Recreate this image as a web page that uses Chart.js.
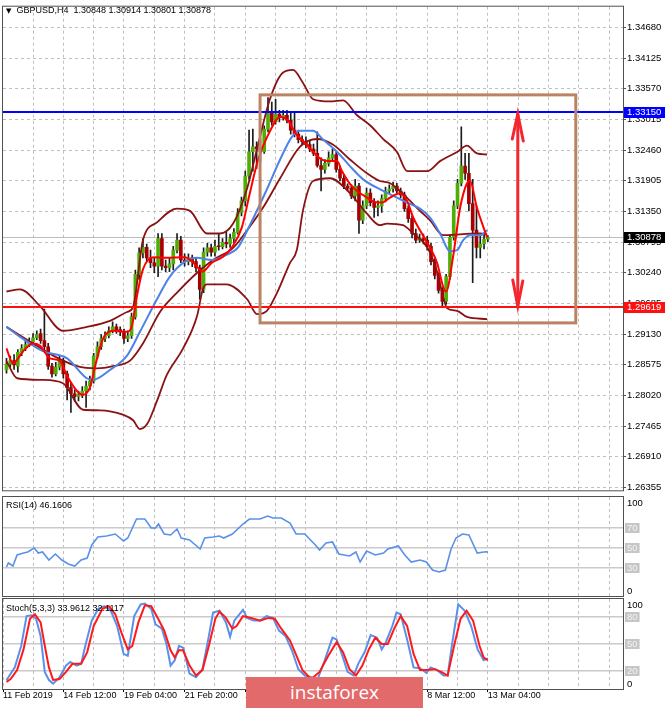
<!DOCTYPE html>
<html><head><meta charset="utf-8">
<script src="https://cdn.jsdelivr.net/npm/chart.js@4.4.1/dist/chart.umd.min.js"></script>
<style>
html,body{margin:0;padding:0;background:#fff;width:665px;height:708px;overflow:hidden;position:relative;}
.panel{position:absolute;left:0;width:665px;}
.panel canvas{display:block;}
.lbl{position:absolute;font:9px "Liberation Sans",Arial,sans-serif;color:#000;white-space:nowrap;line-height:12px;z-index:5;}
#banner{position:absolute;left:246px;top:677px;width:177px;height:31px;background:#e26a6a;color:#fff;font:19px "Open Sans",sans-serif;text-align:center;line-height:30px;z-index:6;}
</style></head><body>
<div class="panel" style="top:0;height:497px"><canvas id="cMain"></canvas></div>
<div class="panel" style="top:494px;height:103px"><canvas id="cRsi"></canvas></div>
<div class="panel" style="top:596px;height:112px"><canvas id="cSto"></canvas></div>
<div class="lbl" style="left:6px;top:4px"><span style="font-family:'DejaVu Sans';font-size:7px">&#9660;</span>&nbsp; GBPUSD,H4&nbsp; 1.30848 1.30914 1.30801 1.30878</div>
<div class="lbl" style="left:6px;top:499px">RSI(14) 46.1606</div>
<div class="lbl" style="left:6px;top:602px">Stoch(5,3,3) 33.9612 32.1117</div>
<div id="banner">instaforex</div>
<script>
// ---------- DATA ----------
const OPEN  = [1.2848,1.2858,1.2865,1.2855,1.2880,1.2887,1.2894,1.2899,1.2906,1.2914,1.2901,1.2890,1.2855,1.2841,1.2853,1.2865,1.2841,1.2816,1.2805,1.2800,1.2803,1.2810,1.2819,1.2828,1.2873,1.2890,1.2905,1.2910,1.2919,1.2926,1.2921,1.2917,1.2905,1.2910,1.2944,1.3021,1.3060,1.3070,1.3051,1.3042,1.3036,1.3086,1.3036,1.3033,1.3040,1.3065,1.3083,1.3047,1.3044,1.3051,1.3044,1.3033,1.2994,1.3061,1.3069,1.3061,1.3072,1.3071,1.3079,1.3076,1.3086,1.3097,1.3133,1.3154,1.3199,1.3243,1.3252,1.3248,1.3243,1.3284,1.3315,1.3297,1.3311,1.3306,1.3309,1.3300,1.3282,1.3275,1.3265,1.3261,1.3256,1.3248,1.3240,1.3218,1.3211,1.3222,1.3232,1.3238,1.3211,1.3195,1.3181,1.3177,1.3163,1.3181,1.3119,1.3145,1.3168,1.3151,1.3142,1.3145,1.3158,1.3172,1.3176,1.3181,1.3172,1.3165,1.3140,1.3122,1.3095,1.3083,1.3086,1.3083,1.3072,1.3044,1.3019,1.2992,1.2972,1.3017,1.3088,1.3145,1.3186,1.3217,1.3204,1.3149,1.3101,1.3070,1.3076,1.30848];
const HIGH  = [1.2869,1.2873,1.2876,1.2885,1.2894,1.2901,1.2906,1.2914,1.2919,1.2922,1.2958,1.2896,1.2860,1.2862,1.2873,1.2869,1.2846,1.2824,1.2812,1.2810,1.2818,1.2828,1.2837,1.2878,1.2899,1.2912,1.2917,1.2926,1.2935,1.2931,1.2926,1.2922,1.2919,1.2951,1.3029,1.3069,1.3086,1.3076,1.3065,1.3051,1.3095,1.3095,1.3047,1.3051,1.3072,1.3095,1.3090,1.3058,1.3058,1.3056,1.3051,1.3038,1.3069,1.3077,1.3076,1.3083,1.3095,1.3086,1.3097,1.3094,1.3104,1.3140,1.3161,1.3208,1.3282,1.3284,1.3261,1.3265,1.3290,1.3341,1.3333,1.3338,1.3318,1.3318,1.3318,1.3315,1.3315,1.3282,1.3272,1.3270,1.3263,1.3257,1.3279,1.3232,1.3229,1.3243,1.3248,1.3243,1.3217,1.3202,1.3185,1.3183,1.3193,1.3186,1.3154,1.3177,1.3176,1.3158,1.3154,1.3165,1.3179,1.3183,1.3188,1.3186,1.3177,1.3170,1.3145,1.3127,1.3103,1.3094,1.3094,1.3090,1.3077,1.3049,1.3024,1.2997,1.3021,1.3092,1.3154,1.3193,1.3288,1.3240,1.3240,1.3193,1.3145,1.3092,1.3094,1.30914];
const LOW   = [1.2842,1.2853,1.2849,1.2844,1.2874,1.2883,1.2890,1.2896,1.2903,1.2896,1.2882,1.2849,1.2835,1.2837,1.2848,1.2833,1.2794,1.2771,1.2791,1.2792,1.2798,1.2780,1.2812,1.2824,1.2869,1.2885,1.2899,1.2906,1.2915,1.2914,1.2910,1.2896,1.2899,1.2905,1.2940,1.3012,1.3051,1.3044,1.3033,1.3024,1.3017,1.3029,1.3026,1.3026,1.3029,1.3060,1.3042,1.3036,1.3038,1.3035,1.3026,1.2976,1.2988,1.3054,1.3054,1.3054,1.3065,1.3067,1.3069,1.3070,1.3079,1.3094,1.3127,1.3145,1.3193,1.3208,1.3213,1.3226,1.3240,1.3279,1.3291,1.3293,1.3297,1.3300,1.3295,1.3275,1.3270,1.3259,1.3256,1.3250,1.3243,1.3236,1.3215,1.3172,1.3204,1.3217,1.3226,1.3206,1.3190,1.3176,1.3172,1.3158,1.3154,1.3095,1.3113,1.3140,1.3145,1.3124,1.3127,1.3133,1.3152,1.3167,1.3170,1.3167,1.3160,1.3135,1.3115,1.3087,1.3078,1.3079,1.3076,1.3065,1.3038,1.3013,1.2987,1.2962,1.2967,1.3012,1.3083,1.3140,1.3181,1.3193,1.3136,1.3006,1.3051,1.3051,1.3067,1.30801];
const CLOSE = [1.2858,1.2865,1.2857,1.2880,1.2887,1.2894,1.2899,1.2906,1.2912,1.2901,1.2890,1.2855,1.2841,1.2853,1.2865,1.2841,1.2816,1.2805,1.2800,1.2803,1.2810,1.2819,1.2828,1.2873,1.2890,1.2905,1.2910,1.2919,1.2926,1.2921,1.2917,1.2905,1.2910,1.2944,1.3021,1.3060,1.3070,1.3051,1.3042,1.3036,1.3086,1.3036,1.3033,1.3040,1.3065,1.3083,1.3047,1.3044,1.3051,1.3044,1.3033,1.2994,1.3061,1.3069,1.3061,1.3072,1.3071,1.3079,1.3076,1.3086,1.3097,1.3133,1.3154,1.3199,1.3243,1.3252,1.3248,1.3243,1.3284,1.3315,1.3297,1.3311,1.3306,1.3309,1.3300,1.3282,1.3275,1.3265,1.3261,1.3256,1.3248,1.3240,1.3218,1.3211,1.3222,1.3232,1.3238,1.3211,1.3195,1.3181,1.3177,1.3163,1.3181,1.3119,1.3145,1.3168,1.3151,1.3142,1.3145,1.3158,1.3172,1.3176,1.3181,1.3172,1.3165,1.3140,1.3122,1.3095,1.3083,1.3086,1.3083,1.3072,1.3044,1.3019,1.2992,1.2972,1.3017,1.3088,1.3145,1.3186,1.3217,1.3204,1.3149,1.3101,1.3070,1.3076,1.3085,1.30878];

// indicator lines: [bar index, value]
const BB_UPPER = [[0,1.2990],[3.6,1.2994],[8.8,1.2964],[14.9,1.2919],[21.2,1.2926],[27.3,1.2937],[31.8,1.2953],[33.4,1.2962],[36.0,1.3083],[39.7,1.3115],[45.0,1.3140],[48.4,1.3136],[52.9,1.3095],[56.3,1.3095],[59.8,1.3113],[63.5,1.3177],[66.1,1.3248],[69.5,1.3338],[72.9,1.3386],[75.6,1.3391],[78.2,1.3368],[80.9,1.3338],[85.4,1.3334],[88.8,1.3336],[92.5,1.3309],[95.9,1.3291],[99.4,1.3266],[103.0,1.3243],[105.7,1.3208],[111.0,1.3208],[114.4,1.3226],[119.0,1.3243],[121.5,1.3254],[124.1,1.3240],[126.8,1.3238]];
const BB_MID = [[0,1.2926],[7.0,1.2896],[12.3,1.2874],[18.6,1.2855],[23.9,1.2851],[28.1,1.2855],[32.6,1.2865],[36.0,1.2896],[40.5,1.2953],[45.0,1.2988],[50.3,1.3024],[54.5,1.3047],[59.8,1.3069],[63.5,1.3101],[67.7,1.3142],[72.2,1.3195],[77.4,1.3252],[82.0,1.3266],[86.1,1.3256],[90.6,1.3229],[95.1,1.3204],[98.5,1.3190],[101.2,1.3186],[103.8,1.3172],[106.5,1.3154],[109.1,1.3136],[111.7,1.3119],[115.2,1.3092],[120.5,1.3094],[125.0,1.3095],[126.8,1.3094]];
const BB_LOWER = [[0,1.2864],[2.8,1.2833],[9.6,1.2830],[14.9,1.2824],[20.2,1.2776],[24.7,1.2775],[30.7,1.2767],[33.4,1.2757],[35.2,1.2741],[37.1,1.2750],[39.7,1.2792],[42.3,1.2839],[46.6,1.2887],[50.3,1.2946],[51.8,1.2994],[52.9,1.3003],[58.0,1.3003],[63.5,1.2976],[66.1,1.2949],[68.7,1.2955],[71.4,1.2988],[74.8,1.3042],[76.6,1.3065],[78.2,1.3136],[80.9,1.3190],[85.4,1.3195],[90.6,1.3168],[95.1,1.3131],[98.5,1.3110],[100.4,1.3113],[104.6,1.3110],[107.3,1.3095],[111.0,1.3070],[113.6,1.3026],[115.2,1.2981],[116.2,1.2960],[118.9,1.2955],[121.5,1.2944],[126.8,1.2940]];
const MA_SLOW = [[0,1.2926],[3.6,1.2908],[9.6,1.2882],[16.0,1.2869],[21.2,1.2833],[22.8,1.2830],[27.3,1.2848],[31.8,1.2874],[35.2,1.2917],[39.7,1.2976],[43.1,1.3017],[47.1,1.3044],[50.3,1.3051],[54.2,1.3047],[57.9,1.3056],[61.1,1.3070],[64.2,1.3110],[68.5,1.3172],[72.2,1.3229],[75.3,1.3270],[77.4,1.3281],[80.9,1.3281],[83.5,1.3265],[87.2,1.3243],[90.6,1.3217],[94.1,1.3193],[99.4,1.3172],[103.0,1.3160],[105.7,1.3151],[109.1,1.3140],[111.7,1.3124],[114.4,1.3095],[117.0,1.3063],[118.9,1.3065],[120.5,1.3083],[122.3,1.3092],[125.0,1.3092],[126.8,1.3101]];
const MA_FAST = [[0,1.2887],[1.7,1.2860],[4.4,1.2882],[7.0,1.2896],[8.8,1.2892],[11.5,1.2869],[14.1,1.2864],[16.0,1.2837],[18.6,1.2810],[20.2,1.2803],[22.0,1.2816],[23.9,1.2869],[25.5,1.2905],[28.1,1.2919],[31.8,1.2917],[33.1,1.2928],[34.4,1.2981],[36.0,1.3030],[38.7,1.3052],[41.8,1.3051],[47.1,1.3052],[50.3,1.3035],[51.6,1.3026],[54.2,1.3042],[56.9,1.3052],[59.5,1.3070],[62.1,1.3106],[64.2,1.3168],[66.4,1.3229],[69.0,1.3273],[72.2,1.3306],[74.3,1.3299],[76.4,1.3275],[78.2,1.3263],[80.9,1.3243],[82.7,1.3231],[84.6,1.3226],[87.2,1.3226],[88.5,1.3208],[90.6,1.3185],[92.5,1.3172],[95.1,1.3160],[97.2,1.3152],[99.1,1.3151],[101.2,1.3160],[103.8,1.3168],[105.7,1.3154],[107.3,1.3124],[109.1,1.3101],[111.7,1.3070],[113.6,1.3042],[115.2,1.2999],[116.0,1.2990],[117.8,1.3052],[119.7,1.3142],[121.5,1.3186],[122.3,1.3190],[124.1,1.3142],[126.8,1.3088]];
const RSI = [[0,31],[0.5,35],[1.7,32],[2.8,43],[4.5,45],[5.6,46],[7.3,50],[8.4,45],[9.5,46],[11.2,38],[12.9,44],[14.6,38],[16.3,34],[18,32],[19.7,38],[21.3,40],[22.5,53],[24.1,61],[26.4,62],[28.7,64],[30.9,57],[32,60],[34.3,79],[36.5,79],[38.2,70],[39.3,70],[40.1,74],[41.6,64],[43.3,63],[45,69],[46.1,60],[48.3,58],[51.1,49],[52.3,60],[54.5,61],[56.2,62],[57.3,60],[59.6,64],[62.4,74],[64.1,79],[66.9,79],[68.9,82],[70.3,80],[72.5,80],[74.8,75],[76.4,64],[78.7,64],[81.5,53],[82.6,48],[84.3,55],[86,56],[87.7,44],[90.5,42],[92.2,46],[93.3,36],[95,47],[97.3,43],[99.5,45],[100.6,49],[103.4,52],[105.1,43],[106.8,36],[109.1,38],[110.8,36],[112.4,28],[114.1,26],[115.8,28],[117.3,49],[118.6,60],[120.3,64],[122,63],[124.2,45],[125.9,46],[127,46.16]];
const STOCH_K = [[0,10],[0.5,13],[2.2,24],[3.9,48],[5.3,81],[6.7,82],[7.8,78],[9.0,59],[10.1,19],[11.2,10],[12.3,6],[14.0,13],[15.7,26],[16.8,30],[18.5,26],[19.7,28],[20.8,48],[22.5,76],[24.2,89],[25.8,92],[27.5,87],[29.2,70],[30.9,39],[32.0,37],[33.7,81],[35.4,94],[36.5,95],[38.2,89],[39.3,72],[41.0,67],[42.2,50],[43.3,26],[44.4,32],[45.5,48],[46.6,46],[48.3,17],[50.0,13],[51.7,22],[53.4,59],[54.5,85],[56.2,87],[57.9,74],[59.0,58],[60.1,76],[62.4,88],[63.5,79],[65.2,76],[66.9,76],[68.6,81],[70.3,79],[71.9,65],[73.6,59],[75.3,43],[77.0,22],[78.7,15],[80.4,13],[82.0,10],[83.8,30],[86.0,57],[87.1,55],[88.3,41],[90.0,19],[91.6,15],[92.8,28],[94.5,41],[96.1,60],[97.8,57],[99.0,44],[100.1,52],[101.8,70],[102.9,85],[104.0,83],[105.7,55],[107.4,24],[109.1,23],[110.8,18],[111.9,24],[113.6,21],[115.3,15],[116.4,15],[117.5,48],[119.2,94],[120.9,87],[122.6,70],[124.3,44],[125.9,32],[127,33.96]];
const STOCH_D = [[0,8],[1.1,11],[2.8,21],[4.5,44],[6.2,78],[7.5,83],[9.0,74],[10.1,48],[11.2,24],[12.3,10],[14.0,11],[15.7,19],[17.4,28],[19.7,28],[21.3,41],[23.0,70],[25.3,89],[27.0,92],[28.7,83],[30.3,63],[32.0,44],[33.2,48],[34.8,74],[36.5,93],[38.2,92],[39.9,79],[41.6,65],[43.3,43],[44.4,35],[45.5,43],[46.6,43],[48.3,26],[50.0,15],[51.7,21],[53.4,48],[55.1,78],[56.2,86],[57.9,79],[59.6,67],[60.7,70],[62.4,81],[64.6,79],[66.9,76],[69.1,79],[70.8,78],[72.5,67],[74.8,54],[76.5,37],[78.1,21],[80.4,11],[82.6,19],[84.9,37],[87.1,52],[88.8,41],[90.5,22],[92.2,15],[93.9,26],[95.6,44],[97.3,57],[99.0,50],[100.6,50],[102.3,67],[104.0,81],[105.7,70],[107.4,39],[109.1,21],[110.8,21],[113.0,22],[114.7,19],[116.4,15],[118.1,48],[119.8,78],[121.4,87],[123.1,76],[124.8,48],[125.9,35],[127,32.11]];

const PRICE_TICKS = [1.26355,1.26910,1.27465,1.28020,1.28575,1.29130,1.29685,1.30240,1.30795,1.31350,1.31905,1.32460,1.33015,1.33570,1.34125,1.34680];
const GRID_BARS = [7,15,23,31,39,47,55,63,71,79,87,95,103,111,119,127,135,143,151,159];
const TIME_LABEL_BARS = [-0.92,15,31,47,63,79,95,111,127];
const TIME_LABELS = ['11 Feb 2019','14 Feb 12:00','19 Feb 04:00','21 Feb 20:00','26 Feb 12:00','1 Mar 04:00','5 Mar 20:00','8 Mar 12:00','13 Mar 04:00'];
const RSI_LEVELS = [70,50,30];
const STOCH_LEVELS = [80,50,20];
const RESISTANCE = 1.33150, SUPPORT = 1.29619, BID = 1.30878;
const RANGE_BOX = {fromBar: 66.9, toBar: 150.2, high: 1.33459, low: 1.29332};
const RANGE_ARROW = {bar: 134.9, high: 1.33150, low: 1.29619};

// ---------- STYLE / LAYOUT ----------
const X_MIN = -0.92, X_MAX = 162.66;
const Y_MIN = 1.26302, Y_MAX = 1.35055;
const FONT_FAMILY = '"Liberation Sans", Arial, sans-serif';
const GRID_C = '#bfbfbf';
const BULL = '#4fae06', BEAR = '#a80000', WICK = '#1c1c1c';
const BB_C = '#8a1212', FAST_C = '#ff0000', SLOW_C = '#4d82e6', IND_BLUE = '#5b90ea';
Chart.defaults.font.family = FONT_FAMILY;
Chart.defaults.animation = false;

function xScale(showLabels) {
  return {
    type: 'linear', min: X_MIN, max: X_MAX, offset: false,
    grid: {color: GRID_C, offset: false, drawTicks: showLabels, tickLength: 3,
           tickColor: c => (c.tick && TIME_LABEL_BARS.includes(c.tick.value)) ? '#000' : 'rgba(0,0,0,0)'},
    border: {display: false, dash: [3, 3]},
    ticks: {display: showLabels, autoSkip: false, maxRotation: 0, minRotation: 0, align: 'start',
            color: '#000', padding: -2, font: {size: 9, family: FONT_FAMILY},
            callback: v => { const k = TIME_LABEL_BARS.indexOf(v); return k >= 0 ? TIME_LABELS[k] : ''; }},
    afterBuildTicks: s => { s.ticks = (showLabels ? [X_MIN] : []).concat(GRID_BARS).map(v => ({value: v})); },
    afterFit: s => { s.height = showLabels ? 19 : 0; }
  };
}

const framePlugin = {
  id: 'frame',
  afterDraw(chart) {
    const {ctx, chartArea: a} = chart;
    ctx.save(); ctx.strokeStyle = '#505050'; ctx.lineWidth = 1;
    ctx.strokeRect(a.left - 0.5, a.top - 0.5, a.width + 1, a.height + 1);
    ctx.restore();
  }
};

function hline(ctx, a, py, color, w) {
  ctx.beginPath(); ctx.strokeStyle = color; ctx.lineWidth = w;
  ctx.moveTo(a.left, py); ctx.lineTo(a.right, py); ctx.stroke();
}
function clipArea(ctx, a) { ctx.beginPath(); ctx.rect(a.left, a.top, a.width, a.height); ctx.clip(); }

const mainOverlay = {
  id: 'mainOverlay',
  beforeDatasetsDraw(chart) {
    const {ctx, chartArea: a, scales: {y}} = chart;
    ctx.save(); clipArea(ctx, a);
    hline(ctx, a, Math.round(y.getPixelForValue(BID)) + 0.5, '#bdbdbd', 1);
    ctx.restore();
  },
  afterDatasetsDraw(chart) {
    const {ctx, chartArea: a, scales: {x, y}} = chart;
    ctx.save(); clipArea(ctx, a);
    hline(ctx, a, y.getPixelForValue(RESISTANCE), '#0000ff', 2);
    hline(ctx, a, y.getPixelForValue(SUPPORT), '#ff1010', 2);
    const bx0 = x.getPixelForValue(RANGE_BOX.fromBar), bx1 = x.getPixelForValue(RANGE_BOX.toBar);
    const by0 = y.getPixelForValue(RANGE_BOX.high), by1 = y.getPixelForValue(RANGE_BOX.low);
    ctx.strokeStyle = '#bb8363'; ctx.lineWidth = 3;
    ctx.strokeRect(bx0, by0, bx1 - bx0, by1 - by0);
    const ax = x.getPixelForValue(RANGE_ARROW.bar);
    const at = y.getPixelForValue(RANGE_ARROW.high) + 2, ab = y.getPixelForValue(RANGE_ARROW.low) - 1;
    ctx.strokeStyle = '#f42630'; ctx.lineWidth = 3; ctx.lineCap = 'round';
    ctx.beginPath(); ctx.moveTo(ax, at); ctx.lineTo(ax, ab); ctx.stroke();
    ctx.beginPath();
    ctx.moveTo(ax - 5.5, at + 25); ctx.lineTo(ax, at); ctx.lineTo(ax + 5.5, at + 27);
    ctx.moveTo(ax - 5, ab - 26); ctx.lineTo(ax, ab); ctx.lineTo(ax + 5, ab - 25);
    ctx.stroke();
    ctx.restore();
  },
  afterDraw(chart) {
    const {ctx, chartArea: a, scales: {y}} = chart;
    ctx.save();
    ctx.font = '9.5px ' + FONT_FAMILY; ctx.textBaseline = 'middle'; ctx.textAlign = 'left';
    [[RESISTANCE, '#0000ff'], [SUPPORT, '#ff1010'], [BID, '#000000']].forEach(([v, c]) => {
      const py = Math.round(y.getPixelForValue(v));
      ctx.fillStyle = c; ctx.fillRect(a.right + 1, py - 5, 665 - a.right - 1, 11);
      ctx.fillStyle = '#fff'; ctx.fillText(v.toFixed(5), a.right + 4, py + 0.5);
    });
    ctx.restore();
  }
};

const sideLabels = {
  id: 'sideLabels',
  afterDraw(chart, args, opts) {
    const {ctx, chartArea: a, scales: {y}} = chart;
    ctx.save();
    ctx.font = '9.5px ' + FONT_FAMILY; ctx.textBaseline = 'middle'; ctx.textAlign = 'left';
    ctx.fillStyle = '#000';
    ctx.fillText('100', a.right + 4, a.top + 6);
    ctx.fillText('0', a.right + 4, a.bottom - 5);
    (opts.levels || []).forEach(v => {
      const py = Math.round(y.getPixelForValue(v));
      const t = String(v), w = ctx.measureText(t).width;
      ctx.fillStyle = '#c6c6c6'; ctx.fillRect(a.right + 2, py - 5, w + 4, 10);
      ctx.fillStyle = '#f4f4f4'; ctx.fillText(t, a.right + 4, py + 0.5);
    });
    ctx.restore();
  }
};

const pts = arr => arr.map(([x, y]) => ({x, y}));
const lineDs = (arr, color, w, order, mono) => ({
  type: 'line', data: pts(arr), borderColor: color, borderWidth: w, pointRadius: 0,
  cubicInterpolationMode: mono ? 'monotone' : 'default', tension: 0, order, fill: false
});

// ---------- MAIN CHART ----------
new Chart(document.getElementById('cMain'), {
  type: 'line',
  data: {
    datasets: [
      {type: 'bar', data: OPEN.map((o, i) => ({x: i, y: [LOW[i], HIGH[i]]})), backgroundColor: WICK,
       barThickness: 1, grouped: false, order: 10, minBarLength: 1},
      {type: 'bar', data: OPEN.map((o, i) => ({x: i, y: [o, CLOSE[i]]})),
       backgroundColor: OPEN.map((o, i) => CLOSE[i] > o ? BULL : (CLOSE[i] < o ? BEAR : WICK)),
       borderWidth: 0, barThickness: 3, grouped: false, order: 9, minBarLength: 1},
      lineDs(BB_UPPER, BB_C, 1.8, 3, true),
      lineDs(BB_MID, BB_C, 1.8, 3, true),
      lineDs(BB_LOWER, BB_C, 1.8, 3, true),
      lineDs(MA_SLOW, SLOW_C, 2, 2, true),
      lineDs(MA_FAST, FAST_C, 2, 1, true)
    ]
  },
  options: {
    responsive: true, maintainAspectRatio: false,
    layout: {padding: {left: 3, top: 3, right: 0, bottom: 3}},
    plugins: {legend: {display: false}, tooltip: {enabled: false}},
    scales: {
      x: xScale(false),
      y: {
        type: 'linear', position: 'right', min: Y_MIN, max: Y_MAX,
        grid: {color: GRID_C, drawTicks: true, tickLength: 3, tickColor: '#505050'},
        border: {display: false, dash: [3, 3]},
        ticks: {color: '#000', padding: 1, font: {size: 9.5, family: FONT_FAMILY}, callback: v => Number(v).toFixed(5)},
        afterBuildTicks: s => { s.ticks = PRICE_TICKS.map(v => ({value: v})); },
        afterFit: s => { s.width = 42; }
      }
    }
  },
  plugins: [mainOverlay, framePlugin]
});

// ---------- RSI ----------
function subY(min, max, levels) {
  return {
    type: 'linear', position: 'right', min, max,
    grid: {color: '#cacaca', lineWidth: 1.5, drawTicks: false},
    border: {display: false},
    ticks: {display: false},
    afterBuildTicks: s => { s.ticks = levels.map(v => ({value: v})); },
    afterFit: s => { s.width = 42; }
  };
}
new Chart(document.getElementById('cRsi'), {
  type: 'line',
  data: {datasets: [lineDs(RSI, IND_BLUE, 1.6, 1, false)]},
  options: {
    responsive: true, maintainAspectRatio: false,
    layout: {padding: {left: 3, top: 3, right: 0, bottom: 1}},
    plugins: {legend: {display: false}, tooltip: {enabled: false}, sideLabels: {levels: RSI_LEVELS}},
    scales: {x: xScale(false), y: subY(2, 101, RSI_LEVELS)}
  },
  plugins: [framePlugin, sideLabels]
});

// ---------- STOCHASTIC ----------
new Chart(document.getElementById('cSto'), {
  type: 'line',
  data: {datasets: [lineDs(STOCH_K, IND_BLUE, 2, 2, false), lineDs(STOCH_D, '#ff1a1a', 2, 1, false)]},
  options: {
    responsive: true, maintainAspectRatio: false,
    layout: {padding: {left: 3, top: 3, right: 0, bottom: 0}},
    plugins: {legend: {display: false}, tooltip: {enabled: false}, sideLabels: {levels: STOCH_LEVELS}},
    scales: {x: xScale(true), y: subY(0, 100, STOCH_LEVELS)}
  },
  plugins: [framePlugin, sideLabels]
});
</script>
</body></html>
